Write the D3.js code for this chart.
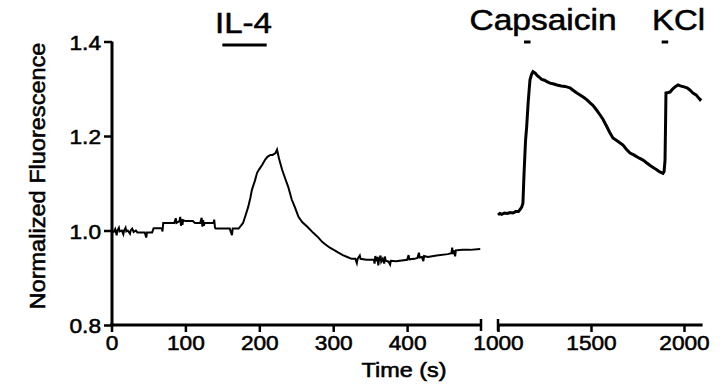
<!DOCTYPE html>
<html><head><meta charset="utf-8">
<script src="https://cdn.jsdelivr.net/npm/d3@7"></script>
<style>body{margin:0;background:#fff}svg{display:block}text{font-family:"Liberation Sans",Arial,sans-serif;fill:#000;stroke:#000;stroke-width:0.55px}</style>
</head><body>
<script>
// ---- data ----
const leftTime = [0,3,5,7,8,10,11,14,16,17,19,20,22,25,26,28,30,33,35,40,45,47,48,55,57,68,69,70,80,85,87,88,92,93,94,95,96,97,100,110,113,120,122,123,124,125,126,138,139,140,141,150,160,163,164,172,175,178,182,185,188,190,194,197,200,204,208,211,215,218,222,224,227,231,235,239,244,248,253,258,265,273,280,285,290,296,302,307,313,319,325,330,332,333,336,337,345,350,355,356,357,358,360,361,362,364,365,367,369,370,371,375,377,378,385,400,402,403,410,414,416,417,420,422,423,428,440,455,460,461,462,464,465,466,475,485,499];
const leftValue = [1.0,0.997,1.003,0.99,1.0,1.006,0.998,1.0,0.992,1.0,1.006,0.998,1.0,0.993,1.0,1.004,0.997,1.0,0.996,0.996,0.996,0.985,0.996,0.996,1.005,1.005,0.998,1.016,1.016,1.016,1.026,1.016,1.02,1.029,1.01,1.024,1.012,1.022,1.02,1.02,1.016,1.016,1.027,1.008,1.022,1.01,1.016,1.016,1.023,1.006,1.004,1.004,1.004,0.99,1.004,1.004,1.01,1.016,1.035,1.05,1.07,1.086,1.105,1.122,1.13,1.139,1.15,1.156,1.16,1.16,1.164,1.171,1.15,1.128,1.11,1.093,1.065,1.05,1.029,1.018,1.008,0.995,0.985,0.976,0.97,0.963,0.958,0.953,0.948,0.944,0.94,0.94,0.931,0.94,0.947,0.94,0.938,0.938,0.938,0.93,0.946,0.935,0.944,0.926,0.938,0.947,0.934,0.94,0.93,0.945,0.936,0.934,0.928,0.936,0.935,0.938,0.948,0.939,0.94,0.942,0.953,0.943,0.944,0.935,0.946,0.944,0.947,0.95,0.952,0.964,0.95,0.958,0.945,0.958,0.959,0.959,0.961];
const rightTime = [1000,1010,1020,1035,1050,1065,1080,1095,1110,1120,1128,1134,1140,1148,1154,1162,1168,1172,1180,1188,1200,1210,1220,1235,1250,1263,1280,1300,1317,1340,1360,1387,1400,1420,1441,1460,1480,1495,1510,1530,1548,1565,1586,1600,1618,1640,1672,1690,1710,1730,1760,1780,1800,1820,1840,1855,1870,1887,1893,1898,1901,1903,1915,1925,1940,1955,1968,1980,2000,2016,2030,2048,2065,2086,2092];
const rightValue = [1.033,1.036,1.034,1.037,1.036,1.038,1.037,1.04,1.04,1.045,1.05,1.058,1.12,1.19,1.219,1.27,1.30,1.319,1.33,1.336,1.333,1.328,1.325,1.32,1.318,1.315,1.312,1.31,1.308,1.306,1.305,1.302,1.298,1.292,1.287,1.282,1.276,1.27,1.265,1.255,1.245,1.235,1.219,1.208,1.196,1.19,1.181,1.172,1.164,1.16,1.153,1.149,1.143,1.137,1.132,1.128,1.124,1.121,1.125,1.149,1.23,1.291,1.292,1.293,1.3,1.305,1.308,1.306,1.304,1.302,1.298,1.291,1.287,1.277,1.28];
const leftTicks = [0,100,200,300,400];
const rightTicks = [1000,1500,2000];
const yTicks = [0.8,1.0,1.2,1.4];
const stimuli = [
  {label:"IL-4", start:150, end:210, side:"left"},
  {label:"Capsaicin", start:1140, end:1175, side:"right"},
  {label:"KCl", start:1880, end:1915, side:"right"}
];
const xTitle = "Time (s)";
const yTitle = "Normalized Fluorescence";

// ---- chart ----
const W = 725, H = 388;
const svg = d3.select("body").append("svg").attr("width", W).attr("height", H);
svg.append("rect").attr("width", W).attr("height", H).attr("fill", "#fff");

const y = d3.scaleLinear().domain([0.8, 1.4]).range([325, 41.5]);
const xL = d3.scaleLinear().domain([0, 500]).range([111.5, 481]);
const xR = d3.scaleLinear().domain([1000, 2100]).range([498, 702.6]);

function stretch(sel, f) {
  sel.each(function(){ const l = this.getComputedTextLength(); d3.select(this).attr("textLength", l*f).attr("lengthAdjust","spacingAndGlyphs"); });
}

// y axis
const gy = svg.append("g").attr("transform", "translate(112,0)")
  .call(d3.axisLeft(y).tickValues(yTicks).tickFormat(d3.format(".1f")).tickSize(8).tickPadding(3));
gy.select(".domain").attr("stroke-width", 3).attr("d", `M0,${y(1.4)}V${y(0.8)+1.5}`);
gy.selectAll(".tick line").attr("stroke-width", 2.5);
gy.selectAll(".tick text").attr("font-size", 21).attr("dy", "0.36em").call(stretch, 1.08);

// x axes
const gxL = svg.append("g").attr("transform", `translate(0,${y(0.8)})`)
  .call(d3.axisBottom(xL).tickValues(leftTicks).tickFormat(d3.format("d")).tickSize(7).tickPadding(3));
gxL.select(".domain").attr("stroke-width", 3).attr("d", `M${xL(0)-1.5},0H${xL(500)}`);
gxL.selectAll(".tick line").attr("stroke-width", 2.5);
gxL.selectAll(".tick text").attr("font-size", 21).call(stretch, 1.08);
gxL.append("line").attr("x1", xL(500)).attr("x2", xL(500)).attr("y1", -6).attr("y2", 6).attr("stroke", "#000").attr("stroke-width", 2.5);

const gxR = svg.append("g").attr("transform", `translate(0,${y(0.8)})`)
  .call(d3.axisBottom(xR).tickValues(rightTicks).tickFormat(d3.format("d")).tickSize(7).tickPadding(3));
gxR.select(".domain").attr("stroke-width", 3).attr("d", `M${xR(1000)},0H${xR(2100)}`);
gxR.selectAll(".tick line").attr("stroke-width", 2.5);
gxR.selectAll(".tick text").attr("font-size", 21).call(stretch, 1.08);
gxR.append("line").attr("x1", xR(1000)).attr("x2", xR(1000)).attr("y1", -6).attr("y2", 6).attr("stroke", "#000").attr("stroke-width", 2.5);

// axis titles
svg.append("text").attr("x", 404).attr("y", 377).attr("text-anchor", "middle").attr("font-size", 20).text(xTitle).call(stretch, 1.17);
svg.append("text").attr("transform", "translate(45,176) rotate(-90)").attr("text-anchor", "middle").attr("font-size", 22).text(yTitle).call(stretch, 1.07);

// traces
const lineL = d3.line().x((d,i) => xL(leftTime[i])).y(d => y(d));
const lineR = d3.line().x((d,i) => xR(rightTime[i])).y(d => y(d));
svg.append("path").attr("d", lineL(leftValue)).attr("fill", "none").attr("stroke", "#000").attr("stroke-width", 2).attr("stroke-linejoin", "miter");
svg.append("path").attr("d", lineR(rightValue)).attr("fill", "none").attr("stroke", "#000").attr("stroke-width", 3);

// stimulus bars
stimuli.forEach(s => {
  const xs = s.side === "left" ? xL : xR;
  const isIL = s.side === "left";
  svg.append("line").attr("x1", xs(s.start)).attr("x2", xs(s.end)).attr("y1", isIL ? 45 : 42).attr("y2", isIL ? 45 : 42)
    .attr("stroke", "#000").attr("stroke-width", 3);
});
const lbl = [
  {t:stimuli[0].label, x:243.5, y:33, w:57},
  {t:stimuli[1].label, x:543, y:30, w:147},
  {t:stimuli[2].label, x:678.5, y:30, w:53}
];
lbl.forEach(l => {
  svg.append("text").attr("x", l.x).attr("y", l.y).attr("text-anchor", "middle").attr("font-size", 30)
    .attr("textLength", l.w).attr("lengthAdjust", "spacingAndGlyphs").text(l.t);
});
</script>
</body></html>
